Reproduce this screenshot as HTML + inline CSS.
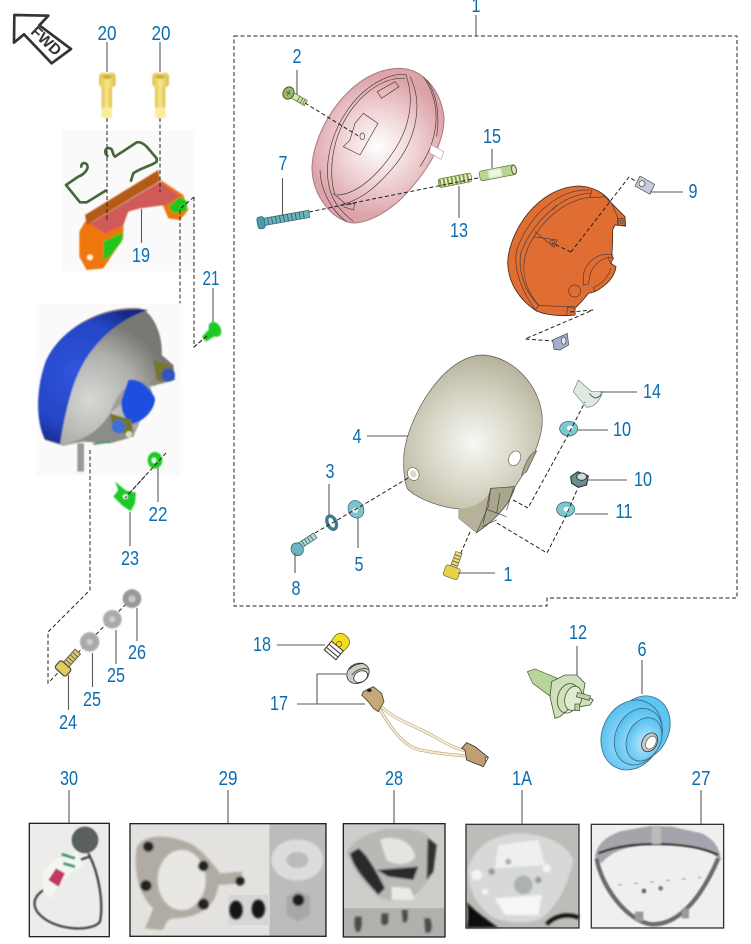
<!DOCTYPE html>
<html><head><meta charset="utf-8"><title>Headlight parts diagram</title>
<style>
html,body{margin:0;padding:0;background:#fff}
svg{display:block}
.lb text{font-family:"Liberation Sans",sans-serif;font-size:20px;fill:#0a6cb2;text-anchor:middle}
.ld{stroke:#5a5a5a;stroke-width:1.1;fill:none}
.ds{stroke:#222;stroke-width:1;stroke-dasharray:4 2.5;fill:none}
.o{stroke:#4a3a3a;stroke-width:2;fill:none}
</style></head><body>
<svg xmlns="http://www.w3.org/2000/svg" width="751" height="944" viewBox="0 0 751 944">
<defs>
<radialGradient id="pk" gradientUnits="userSpaceOnUse" cx="415" cy="350" r="210"><stop offset="0" stop-color="#fff"/><stop offset=".55" stop-color="#efd0d2"/><stop offset="1" stop-color="#dca4a9"/></radialGradient>
<radialGradient id="gy" gradientUnits="userSpaceOnUse" cx="580" cy="280" r="290"><stop offset="0" stop-color="#f8f8f4"/><stop offset=".5" stop-color="#d6d4c4"/><stop offset="1" stop-color="#afab94"/></radialGradient>
<radialGradient id="cy" cx=".55" cy=".55" r=".6"><stop offset="0" stop-color="#bfeafb"/><stop offset="1" stop-color="#4fbdf0"/></radialGradient>
<radialGradient id="lg" gradientUnits="userSpaceOnUse" cx="270" cy="300" r="240"><stop offset="0" stop-color="#d8d8d6"/><stop offset=".6" stop-color="#aeaeab"/><stop offset="1" stop-color="#777773"/></radialGradient>
<radialGradient id="lb2" gradientUnits="userSpaceOnUse" cx="230" cy="220" r="230"><stop offset="0" stop-color="#2f55dc"/><stop offset=".7" stop-color="#2445c4"/><stop offset="1" stop-color="#15288a"/></radialGradient>
<linearGradient id="yl" x1="0" y1="0" x2="1" y2="0"><stop offset="0" stop-color="#dcc24c"/><stop offset=".5" stop-color="#f8e88c"/><stop offset="1" stop-color="#d8bc48"/></linearGradient>
<filter id="b1"><feGaussianBlur stdDeviation="2"/></filter>
<filter id="b3"><feGaussianBlur stdDeviation="3.5"/></filter>
</defs>

<rect width="751" height="944" fill="#fff"/>

<!-- outer dashed box -->
<path class="ds" d="M234,36H737V598H547V606H234Z"/>
<path class="ld" d="M476,15V36"/>

<!-- FWD arrow -->
<g transform="scale(.3333)">
<path d="M43,45L145,47L118,76L213,147L155,190L72,103L42,128Z" fill="#fff" stroke="#333" stroke-width="8" stroke-linejoin="round"/>
<text x="0" y="0" transform="translate(128,134) rotate(43)" font-family="Liberation Sans,sans-serif" font-weight="bold" font-size="46" fill="#333" text-anchor="middle">FWD</text>
</g>

<!-- bolts 20 + bracket bg -->
<g transform="scale(.3333)">
<rect x="186" y="392" width="399" height="423" fill="#fafafa"/>
<g id="bolt" filter="url(#b1)"><rect x="305" y="250" width="31" height="104" rx="6" fill="url(#yl)"/><rect x="305" y="322" width="31" height="32" rx="6" fill="#f7ee9c"/><rect x="297" y="218" width="50" height="44" rx="12" fill="url(#yl)"/><ellipse cx="321" cy="230" rx="14" ry="7" fill="#c8b040"/></g>
<use href="#bolt" x="160"/>
</g>
<!-- bracket -->
<g transform="translate(40,125) scale(.3333)">
<g filter="url(#b1)">
<path d="M118,320L135,290L250,300L250,340L210,400L190,430L140,435L118,395Z" fill="#ef7410"/>
<path d="M362,165L430,210L445,255L420,285L385,280L368,240Z" fill="#ef7410"/>
<path d="M135,270L355,135L360,168L140,300Z" fill="#b55a18"/>
<path d="M150,295L360,170L420,215L375,240L300,250L265,260L250,300L195,325Z" fill="#cf5a58"/>
<path d="M190,350L250,320L245,350L210,395L190,405Z" fill="#21c51e"/>
<path d="M385,245L420,215L443,230L438,260L400,265Z" fill="#21c51e"/>
<circle cx="150" cy="397" r="9" fill="#fff7c0"/>
</g>
<path d="M205,95C190,85 195,65 210,70C220,72 215,85 225,95L290,52C300,50 310,55 320,65L350,100L350,110C340,120 300,130 280,145L272,170M125,128C120,115 135,110 140,118C150,130 130,150 115,155L78,180L120,232L140,232L200,195" fill="none" stroke="#46693c" stroke-width="8" stroke-linejoin="round"/>
</g>
<path class="ds" d="M107,118V220M160,118V192"/>
<path class="ds" d="M194,197L180,209V360L166,375V453L125,498"/>
<path class="ds" d="M194,197V347L208,335"/>

<!-- blue lamp -->
<g transform="translate(0,300) scale(.3333)">
<rect x="110" y="10" width="432" height="517" fill="#fafafa"/>
<g filter="url(#b1)">
<rect x="232" y="430" width="20" height="85" fill="#999"/>
<path d="M420,25C460,35 490,110 485,165L520,195L525,240L450,260L465,300L420,365L400,410L330,430L250,425L190,438L135,420C110,370 105,280 135,190C175,90 300,15 420,25Z" fill="url(#lg)"/>
<path d="M445,30C360,55 290,120 250,190C215,250 195,340 180,432L135,418C110,370 105,280 135,190C175,90 300,15 445,30Z" fill="url(#lb2)"/>
<path d="M330,340C360,250 420,225 465,260L485,165C480,210 470,240 440,250" fill="#8a8a86" opacity=".6"/>
<path d="M190,430C250,425 300,390 330,340L400,410L330,430L250,425Z" fill="#8c8c88"/>
<path d="M385,240C420,232 450,265 465,295C465,330 430,365 395,372C375,360 360,330 365,300Z" fill="#1e50e0"/>
<path d="M460,180L520,200L500,245L470,240Z" fill="#76742a"/>
<circle cx="505" cy="225" r="20" fill="#2f55c0"/>
<path d="M330,340L395,360L400,410L340,390Z" fill="#76742a"/>
<circle cx="355" cy="380" r="20" fill="#3c70d8"/>
<circle cx="387" cy="403" r="10" fill="#dedcb8"/>
<path d="M280,432L330,425" stroke="#4a9a70" stroke-width="6"/>
</g>
</g>
<path class="ds" d="M90,450V590L48,632V683L132,598"/>

<!-- 21, 22, 23 -->
<g transform="translate(0,300) scale(.3333)" filter="url(#b1)" fill="#1fc928">
<ellipse cx="645" cy="88" rx="17" ry="24" transform="rotate(-30 645 88)"/>
<path d="M630,85L650,105L618,125L606,110Z"/>
<path d="M465,456A22,25 0 1 0 465,506A22,25 0 1 0 465,456ZM462,472A8,9 0 1 1 462,490A8,9 0 1 1 462,472Z" fill-rule="evenodd"/>
<path d="M345,545L378,572L408,578L405,610L392,634L365,615L340,590L355,570Z"/>
<circle cx="376" cy="590" r="7" fill="#fff"/>
</g>
<path class="ds" d="M194,347L208,335"/>
<path class="ds" d="M166,453L125,498"/>

<!-- 24,25,26 -->
<g transform="translate(0,300) scale(.3333)">
<g filter="url(#b1)" fill="#aaa">
<circle cx="396" cy="896" r="28" fill="#999"/>
<circle cx="396" cy="897" r="11" fill="#c4c4c4"/>
<circle cx="337" cy="958" r="28"/><circle cx="337" cy="958" r="9" fill="#cfcfcf"/>
<circle cx="269" cy="1026" r="29"/><circle cx="269" cy="1026" r="9" fill="#cfcfcf"/>
</g>
<g transform="rotate(-48 200 1095)">
<rect x="200" y="1082" width="52" height="22" fill="#ddc86e" stroke="#665" stroke-width="3"/>
<rect x="170" y="1072" width="30" height="44" rx="8" fill="#e2cc60" stroke="#554" stroke-width="4"/>
<path d="M210,1083v20M220,1083v20M230,1083v20M240,1083v20" stroke="#665" stroke-width="3"/>
</g>
</g>

<!-- pink lens -->
<g transform="translate(240,30) scale(.3333)">
<path d="M480,115C540,115 600,170 612,260C615,340 560,430 480,510C430,555 370,585 330,578C260,560 215,480 216,410C220,300 330,115 480,115Z" fill="url(#pk)" stroke="#a87a7e" stroke-width="3"/>
<path class="o" d="M500,135C470,125 390,150 330,230C270,310 250,410 270,480C280,520 310,550 340,575"/>
<path class="o" d="M495,145C440,140 370,180 320,260C275,335 265,430 285,495"/>
<path class="o" d="M498,135C525,210 510,300 450,380C400,450 340,495 290,495"/>
<path class="o" d="M510,140C550,220 530,320 470,400C420,460 370,510 300,525"/>
<path class="o" d="M550,140C605,220 600,320 540,410"/>
<path class="o" d="M560,150C590,190 600,250 590,320"/>
<path class="o" d="M240,420C240,470 270,540 320,575"/>
<path class="o" d="M370,250L414,280L360,375L310,350L330,330L345,280Z"/>
<ellipse cx="367" cy="319" rx="7" ry="10" class="o"/>
<path class="o" d="M412,185L465,155L477,170L425,205Z"/>
<path d="M280,490L320,525L345,520L340,540L310,530" class="o"/>
<path d="M573,345L612,365L603,388L568,368Z" fill="#fff" stroke="#c9a" stroke-width="2"/>
<g transform="rotate(30 145 190)">
<rect x="155" y="180" width="50" height="18" fill="#d8e4b4" stroke="#5a6a30" stroke-width="2"/>
<path d="M180,180v18M190,180v18M198,180v18" stroke="#6a8030" stroke-width="3"/>
<ellipse cx="145" cy="189" rx="16" ry="19" fill="#9cb868" stroke="#4a5a30" stroke-width="3"/>
<path d="M137,189h16M145,180v18" stroke="#345" stroke-width="2"/>
</g>
<g transform="rotate(-10 65 578)">
<rect x="70" y="566" width="140" height="22" fill="#6db3ba" stroke="#35636a" stroke-width="2"/>
<path d="M85,566v22M97,566v22M109,566v22M121,566v22M133,566v22M145,566v22M157,566v22M169,566v22M181,566v22M193,566v22" stroke="#2f6a76" stroke-width="3"/>
<rect x="52" y="560" width="22" height="36" rx="8" fill="#4c9aa6" stroke="#2c5a60" stroke-width="2"/>
</g>
<g transform="rotate(-11 645 450)">
<rect x="595" y="438" width="100" height="26" rx="6" fill="#e8efd0" stroke="#55702c" stroke-width="2"/>
<path d="M600,438v26M612,438v26M624,438v26M636,438v26M648,438v26M660,438v26M672,438v26M684,438v26" stroke="#7d9c40" stroke-width="6"/>
</g>
<g transform="rotate(-11 775 428)">
<rect x="718" y="413" width="110" height="30" rx="7" fill="#b4d68e" stroke="#5a7040" stroke-width="2"/>
<rect x="745" y="416" width="40" height="24" fill="#edf6e0" filter="url(#b1)"/>
<ellipse cx="823" cy="428" rx="7" ry="14" fill="#dbe8c6" stroke="#506030" stroke-width="3"/>
</g>
</g>
<path class="ds" d="M305,103L360,137M309,212L353,203M353,203L478,178"/>

<!-- orange reflector -->
<g transform="translate(480,160) scale(.3333)">
<path d="M300,78C340,80 375,100 395,130L435,170L437,198L405,195L398,210C398,240 398,270 395,285L400,295L392,310L408,320C405,345 390,370 345,395L325,400C310,420 295,435 285,445L285,465L260,467C230,467 190,465 165,450C120,420 85,370 83,310C85,220 170,80 300,78Z" fill="#e06d31" stroke="#3f2a1c" stroke-width="2.5"/>
<path class="o" d="M330,90C240,85 150,160 110,270C100,320 120,390 170,455"/>
<path class="o" d="M335,100C250,100 160,180 122,280C115,330 130,390 175,435"/>
<path class="o" d="M360,112C270,105 190,170 145,260C120,320 130,380 175,435C200,440 240,438 285,440"/>
<path class="o" d="M336,88L330,112M218,150L230,135M160,230L232,240L222,262L165,215M178,435L165,450"/>
<circle cx="217" cy="248" r="7" class="o"/>
<path class="o" d="M360,112L372,108L395,130L412,170L412,195"/>
<rect x="415" y="176" width="20" height="20" class="o"/>
<circle cx="425" cy="185" r="5" class="o"/>
<path class="o" d="M400,285C360,275 320,300 310,345L310,375L325,372L330,345C340,310 370,290 400,292"/>
<path class="o" d="M385,290C385,310 408,320 408,320M345,395L340,382C370,370 385,350 392,325"/>
<circle cx="284" cy="393" r="18" class="o"/>
<path class="o" d="M262,442L285,445L285,465L260,467Z"/>
<path d="M480,48L524,73L510,103L465,78Z" fill="#c6cbdc" stroke="#444" stroke-width="2"/>
<circle cx="486" cy="71" r="9" fill="#eee" stroke="#444" stroke-width="2"/>
<path d="M218,540L262,520L266,555L240,570L222,568Z" fill="#a4adcd" stroke="#444" stroke-width="2"/>
<ellipse cx="251" cy="542" rx="7" ry="11" fill="#e8ebf2" stroke="#444" stroke-width="2"/>
</g>
<path class="ds" d="M571,252L552,243M571,252L629,177L637,182M570,312L593,310L525,339L553,341"/>

<!-- grey shell -->
<g transform="translate(280,350) scale(.3333)">
<path d="M610,15C700,20 785,110 787,210C787,280 740,360 705,410C695,450 660,500 590,548L537,505L537,476C490,475 420,450 385,420C370,400 370,340 372,310C385,200 490,15 610,15Z" fill="url(#gy)" stroke="#555" stroke-width="2"/>
<path d="M537,476C580,475 625,450 632,415L625,470L590,548L537,505Z" fill="#b6b29a"/>
<path d="M632,415L705,410C695,450 660,500 590,548L625,470Z" fill="#a9a68e" stroke="#444" stroke-width="2"/>
<path class="o" d="M632,415L610,520M660,430L650,490M700,415L680,480M625,480L680,500M605,530L650,510"/>
<ellipse cx="400" cy="372" rx="17" ry="20" fill="#fff" stroke="#665" stroke-width="2" transform="rotate(-25 400 372)"/>
<ellipse cx="400" cy="372" rx="9" ry="11" fill="#d8d8cc" transform="rotate(-25 400 372)"/>
<ellipse cx="704" cy="325" rx="17" ry="23" fill="#fff" stroke="#665" stroke-width="2" transform="rotate(25 704 325)"/>
<path d="M725,375C735,340 750,310 770,303L740,365Z" fill="#aaa68c" stroke="#555" stroke-width="2"/>
<g transform="rotate(-33 66 585)">
<rect x="60" y="574" width="55" height="18" fill="#b7d8d8" stroke="#2f5d60" stroke-width="2"/>
<path d="M72,574v18M82,574v18M92,574v18M102,574v18" stroke="#3a7a80" stroke-width="3"/>
<ellipse cx="47" cy="588" rx="18" ry="20" fill="#6bb5c2" stroke="#2c5c60" stroke-width="2"/>
</g>
<ellipse cx="155" cy="518" rx="13" ry="21" fill="none" stroke="#3b7c88" stroke-width="10" transform="rotate(-25 155 518)"/>
<ellipse cx="228" cy="478" rx="23" ry="27" fill="#7cc3cc" stroke="#335e60" stroke-width="2" transform="rotate(-25 228 478)"/>
<circle cx="226" cy="481" r="8" fill="#eee"/>
<g transform="rotate(-70 520 660)">
<rect x="525" y="648" width="50" height="20" fill="#ecdc88" stroke="#665" stroke-width="2"/>
<path d="M535,648v20M545,648v20M555,648v20M565,648v20" stroke="#806a20" stroke-width="3"/>
<rect x="495" y="635" width="34" height="46" rx="6" fill="#e8d24c" stroke="#665" stroke-width="2"/>
</g>
<path d="M895,90L935,125L968,125C960,150 945,172 920,172L905,155L880,125Z" fill="#dfe9e0" stroke="#687" stroke-width="2"/>
<path d="M928,130C940,145 950,150 965,132" fill="none" stroke="#565" stroke-width="3"/>
<ellipse cx="866" cy="236" rx="27" ry="22" fill="#7cc9d3" stroke="#355" stroke-width="2"/>
<ellipse cx="870" cy="234" rx="9" ry="7" fill="#fff"/>
<ellipse cx="857" cy="478" rx="27" ry="22" fill="#7cc9d3" stroke="#355" stroke-width="2"/>
<ellipse cx="860" cy="478" rx="9" ry="7" fill="#fff"/>
<path d="M872,380L893,365L925,378L920,405L895,412L875,400Z" fill="#6b8e94" stroke="#223" stroke-width="3"/>
<ellipse cx="905" cy="380" rx="15" ry="11" fill="#cfdcd8" stroke="#244" stroke-width="3"/>
</g>
<path class="ds" d="M315,533L363,505L408,478M470,532L460,555M513,500L528,508L567,437L585,402M497,523L547,553L565,518L577,490"/>

<!-- bulb 18, grommet, harness, bulb 12, 6 -->
<g transform="translate(240,620) scale(.3333)">
<g transform="rotate(40 295 78)">
<rect x="268" y="40" width="50" height="50" rx="20" fill="#f3dd22" stroke="#6a5a10" stroke-width="2"/>
<rect x="270" y="80" width="46" height="34" fill="#fafafa" stroke="#333" stroke-width="3"/>
<path d="M270,92h46M270,104h46" stroke="#333" stroke-width="3"/>
<circle cx="293" cy="72" r="8" fill="none" stroke="#5a4a10" stroke-width="2"/>
</g>
<ellipse cx="354" cy="160" rx="35" ry="29" fill="#c9cfc2" stroke="#333" stroke-width="2.5" transform="rotate(-30 354 160)"/>
<path d="M328,148C340,135 358,130 372,130M335,165C350,148 370,142 385,148" fill="none" stroke="#333" stroke-width="2.5"/>
<ellipse cx="362" cy="170" rx="22" ry="16" fill="#fff" stroke="#333" stroke-width="2.5" transform="rotate(-30 362 170)"/>
<!-- harness -->
<path d="M425,262C470,300 505,310 545,330C590,350 630,385 680,392" fill="none" stroke="#a89868" stroke-width="9"/>
<path d="M425,262C470,300 505,310 545,330C590,350 630,385 680,392" fill="none" stroke="#f6f0da" stroke-width="6"/>
<path d="M418,265C450,320 490,380 540,390C590,400 640,405 680,408" fill="none" stroke="#a89868" stroke-width="9"/>
<path d="M418,265C450,320 490,380 540,390C590,400 640,405 680,408" fill="none" stroke="#f3ead0" stroke-width="6"/>
<path d="M370,215L400,200L425,220L432,245L415,275L400,265L385,245L365,225Z" fill="#c7a878" stroke="#443" stroke-width="2.5"/>
<ellipse cx="388" cy="211" rx="7" ry="5" fill="#222"/>
<path d="M665,385L680,368L705,380L745,412L730,440L680,420L675,390Z" fill="#bfa074" stroke="#333" stroke-width="2.5"/>
<path d="M735,412L745,412L738,425Z" fill="#fff" stroke="#333" stroke-width="2"/>
<!-- bulb 12 -->
<path d="M862,155L885,147L960,178L935,232L878,190Z" fill="#b9d49a" stroke="#4a5a3a" stroke-width="2"/>
<path d="M935,185L975,165L1010,165L1035,190L1030,220L1060,240L1050,255L1020,260L990,265L960,290L945,295L938,265L930,230Z" fill="#cfe0ba" stroke="#4a5a3a" stroke-width="2.5"/>
<ellipse cx="985" cy="235" rx="32" ry="45" fill="none" stroke="#4a5a3a" stroke-width="2.5" transform="rotate(15 985 235)"/>
<ellipse cx="1000" cy="235" rx="25" ry="37" fill="#e0ebd0" stroke="#4a5a3a" stroke-width="2.5" transform="rotate(15 1000 235)"/>
<rect x="1010" y="222" width="40" height="14" fill="#b9d49a" stroke="#444" stroke-width="2" transform="rotate(15 1030 230)"/>
<rect x="1005" y="252" width="14" height="20" fill="#b9d49a" stroke="#444" stroke-width="2"/>
<!-- boot 6 -->
<ellipse cx="1205" cy="325" rx="82" ry="100" fill="#5cc5f2" stroke="#3a6a88" stroke-width="2.5" transform="rotate(25 1205 325)"/>
<ellipse cx="1175" cy="345" rx="88" ry="108" fill="url(#cy)" stroke="#3a6a88" stroke-width="2.5" transform="rotate(25 1175 345)"/>
<ellipse cx="1195" cy="350" rx="68" ry="88" fill="url(#cy)" stroke="#3a6a88" stroke-width="2.5" transform="rotate(25 1195 350)"/>
<ellipse cx="1212" cy="358" rx="50" ry="68" fill="url(#cy)" stroke="#3a6a88" stroke-width="2.5" transform="rotate(25 1212 358)"/>
<ellipse cx="1229" cy="367" rx="22" ry="30" fill="#c8c8c8" stroke="#333" stroke-width="2.5" transform="rotate(30 1229 367)"/>
<ellipse cx="1233" cy="368" rx="14" ry="21" fill="#fff" stroke="#555" stroke-width="2" transform="rotate(30 1233 368)"/>
</g>

<!-- photos bottom -->
<g transform="translate(20,765) scale(.3333)">
<rect x="28" y="175" width="240" height="340" fill="#ececea"/>
<g filter="url(#b1)">
<circle cx="195" cy="225" r="40" fill="#5a5f5e"/>
<path d="M205,265C240,330 250,420 240,470C220,500 110,500 60,450C30,420 40,380 100,365M210,275C190,280 180,285 150,300" fill="none" stroke="#444" stroke-width="7"/>
<path d="M70,320L100,285L170,260L190,300L120,350L95,400L70,385Z" fill="#f4f6f2"/>
<path d="M125,268L165,280M130,295L165,305" stroke="#3a9a70" stroke-width="9"/>
<path d="M85,345L108,310L135,325L115,365Z" fill="#c2385f"/>
</g>
<rect x="28" y="175" width="240" height="340" fill="none" stroke="#222" stroke-width="4"/>
</g>
<g transform="translate(20,765) scale(.3333)">
<rect x="330" y="176" width="588" height="338" fill="#e4e2de"/>
<rect x="748" y="176" width="170" height="338" fill="#bcbcbc"/>
<rect x="625" y="390" width="125" height="90" fill="#d6d6d6"/>
<g filter="url(#b3)">
<path d="M350,250C365,205 450,205 520,240C560,270 590,310 600,325L665,320L670,355L595,360C590,420 540,460 460,460C430,465 440,490 425,495L375,490L400,430C355,390 340,310 350,250Z" fill="#b0aca3"/>
<ellipse cx="485" cy="345" rx="72" ry="90" fill="#e8e7e3"/>
<circle cx="385" cy="245" r="16" fill="#222"/><circle cx="550" cy="303" r="16" fill="#222"/><circle cx="378" cy="362" r="17" fill="#222"/><circle cx="550" cy="417" r="17" fill="#222"/><circle cx="660" cy="348" r="14" fill="#222"/>
<ellipse cx="648" cy="435" rx="20" ry="28" fill="#181818"/><ellipse cx="715" cy="432" rx="20" ry="28" fill="#181818"/>
<ellipse cx="832" cy="285" rx="78" ry="62" fill="#dcdcdc"/><ellipse cx="832" cy="285" rx="33" ry="24" fill="#bbb"/>
<path d="M800,395L835,378L870,395L870,450L835,470L800,450Z" fill="#a7a7a7"/>
<circle cx="835" cy="405" r="18" fill="#1a1a1a"/>
</g>
<rect x="330" y="176" width="588" height="338" fill="none" stroke="#222" stroke-width="4"/>
</g>
<g transform="translate(335,765) scale(.3333)">
<rect x="25" y="176" width="305" height="340" fill="#cdcdca"/>
<rect x="25" y="430" width="305" height="85" fill="#b0b0ac"/>
<g filter="url(#b3)">
<path d="M35,260C70,200 190,170 270,205C310,240 310,310 270,360C230,410 170,420 130,395C80,350 50,310 35,260Z" fill="#b8b8b5"/>
<path d="M70,250C90,260 120,310 150,370L130,390C95,350 55,310 45,265Z" fill="#2a2a2a"/>
<path d="M125,315L250,305L235,345L160,335Z" fill="#2a2a2a"/>
<path d="M135,225C165,210 230,220 240,275C225,305 175,300 155,285Z" fill="#e4e4e2"/>
<path d="M278,218L305,240L295,320L275,345Z" fill="#333"/>
<path d="M170,365L225,370L240,405L170,405Z" fill="#eaeaea"/>
<path d="M60,455h20v25l-5,20h-12l-5-20ZM140,445h20v25l-5,10h-12l-5-10ZM200,435h18v25l-4,12h-10ZM268,460h18l5,25l-6,18h-14Z" fill="#4c4c4a"/>
</g>
<rect x="25" y="176" width="305" height="340" fill="none" stroke="#222" stroke-width="4"/>

<rect x="393" y="178" width="339" height="311" fill="#bcbcb8"/>
<g filter="url(#b3)">
<path d="M395,410C400,430 400,470 395,488L490,488C450,460 410,430 395,410Z" fill="#111"/>
<path d="M635,478C660,450 700,445 732,458" fill="none" stroke="#111" stroke-width="12"/>
<path d="M400,310C420,240 480,205 560,205C640,210 700,240 715,285C700,350 680,410 620,460C580,480 510,475 470,455C420,420 395,360 400,310Z" fill="#d6d9d7"/>
<path d="M490,240L610,225L630,300L480,310Z" fill="#eef0ee"/>
<path d="M480,400L620,390L610,450L510,450Z" fill="#f5f7f5"/>
<circle cx="565" cy="360" r="28" fill="#adb1af"/>
<circle cx="425" cy="330" r="16" fill="#f4f4f4"/><circle cx="635" cy="310" r="12" fill="#f4f4f4"/>
<circle cx="470" cy="320" r="10" fill="#999c9a"/><circle cx="520" cy="290" r="9" fill="#a6aaa8"/><circle cx="610" cy="345" r="10" fill="#999c9a"/><circle cx="450" cy="380" r="9" fill="#f4f4f4"/>
</g>
<rect x="393" y="178" width="339" height="311" fill="none" stroke="#333" stroke-width="4"/>

<rect x="769" y="178" width="397" height="311" fill="#f0efee"/>
<g filter="url(#b1)">
<path d="M780,275C785,240 810,215 860,198L945,183L1010,185L1100,205C1135,220 1155,250 1158,285L1130,265C1090,245 1030,240 960,240C890,240 830,255 800,295Z" fill="#a4a4ac"/>
<path d="M790,265C840,245 900,237 960,237C1030,237 1100,245 1150,270" fill="none" stroke="#333" stroke-width="7"/>
<path d="M785,280C800,370 880,470 950,478C1020,480 1090,420 1150,280" fill="none" stroke="#6a6a6e" stroke-width="13"/>
<rect x="950" y="182" width="28" height="55" fill="#bbb"/>
<circle cx="927" cy="378" r="7" fill="#666"/><circle cx="977" cy="370" r="7" fill="#777"/>
<path d="M850,360L1100,337" stroke="#888" stroke-width="3" stroke-dasharray="10 38"/>
<path d="M900,440h25v30h-25ZM1040,430h22v30h-22Z" fill="#999"/>
</g>
<rect x="769" y="178" width="397" height="311" fill="none" stroke="#333" stroke-width="4"/>
</g>

<!-- leaders -->
<path class="ld" d="M107,42V72M160,42V72M141.5,209V243M213,288V322M158,468V502M130,512V546M68.5,675V710M92.5,653V687M116,630V664M137,608V641"/>
<path class="ld" d="M297,70V95M282.5,178V216M492,149V168M459,186V218M650,192H683M600,392H637M577,430H608M587,480H627M575,514H608M458,573H495M367,436H408M329,484V515M358,518V548M295,553V573"/>
<path class="ld" d="M277,645H325M297,704H365M317,704V674H346M577,646V675M642,660V694"/>
<path class="ld" d="M69,790V823M228,790V823M394,790V823M522,790V824M701,790V824"/>

<!-- labels -->
<g class="lb">
<text x="476" y="12" textLength="9" lengthAdjust="spacingAndGlyphs">1</text>
<text x="107" y="40" textLength="19" lengthAdjust="spacingAndGlyphs">20</text>
<text x="161" y="40" textLength="19" lengthAdjust="spacingAndGlyphs">20</text>
<text x="141" y="262" textLength="18" lengthAdjust="spacingAndGlyphs">19</text>
<text x="211" y="285" textLength="17" lengthAdjust="spacingAndGlyphs">21</text>
<text x="297" y="63" textLength="9" lengthAdjust="spacingAndGlyphs">2</text>
<text x="283" y="170" textLength="9" lengthAdjust="spacingAndGlyphs">7</text>
<text x="492" y="143" textLength="18" lengthAdjust="spacingAndGlyphs">15</text>
<text x="459" y="237" textLength="18" lengthAdjust="spacingAndGlyphs">13</text>
<text x="693" y="198" textLength="9" lengthAdjust="spacingAndGlyphs">9</text>
<text x="652" y="398" textLength="18" lengthAdjust="spacingAndGlyphs">14</text>
<text x="622" y="436" textLength="18" lengthAdjust="spacingAndGlyphs">10</text>
<text x="643" y="486" textLength="18" lengthAdjust="spacingAndGlyphs">10</text>
<text x="624" y="518" textLength="17" lengthAdjust="spacingAndGlyphs">11</text>
<text x="508" y="581" textLength="9" lengthAdjust="spacingAndGlyphs">1</text>
<text x="357" y="443" textLength="9" lengthAdjust="spacingAndGlyphs">4</text>
<text x="330" y="478" textLength="9" lengthAdjust="spacingAndGlyphs">3</text>
<text x="359" y="571" textLength="9" lengthAdjust="spacingAndGlyphs">5</text>
<text x="296" y="595" textLength="9" lengthAdjust="spacingAndGlyphs">8</text>
<text x="262" y="651" textLength="18" lengthAdjust="spacingAndGlyphs">18</text>
<text x="279" y="710" textLength="18" lengthAdjust="spacingAndGlyphs">17</text>
<text x="578" y="639" textLength="18" lengthAdjust="spacingAndGlyphs">12</text>
<text x="642" y="656" textLength="9" lengthAdjust="spacingAndGlyphs">6</text>
<text x="158" y="521" textLength="19" lengthAdjust="spacingAndGlyphs">22</text>
<text x="130" y="565" textLength="18" lengthAdjust="spacingAndGlyphs">23</text>
<text x="137" y="659" textLength="18" lengthAdjust="spacingAndGlyphs">26</text>
<text x="116" y="682" textLength="18" lengthAdjust="spacingAndGlyphs">25</text>
<text x="92" y="706" textLength="18" lengthAdjust="spacingAndGlyphs">25</text>
<text x="68" y="729" textLength="18" lengthAdjust="spacingAndGlyphs">24</text>
<text x="69" y="785" textLength="18" lengthAdjust="spacingAndGlyphs">30</text>
<text x="228" y="785" textLength="19" lengthAdjust="spacingAndGlyphs">29</text>
<text x="394" y="785" textLength="18" lengthAdjust="spacingAndGlyphs">28</text>
<text x="522" y="785" textLength="20" lengthAdjust="spacingAndGlyphs">1A</text>
<text x="701" y="785" textLength="19" lengthAdjust="spacingAndGlyphs">27</text>
</g>
</svg>
</body></html>
